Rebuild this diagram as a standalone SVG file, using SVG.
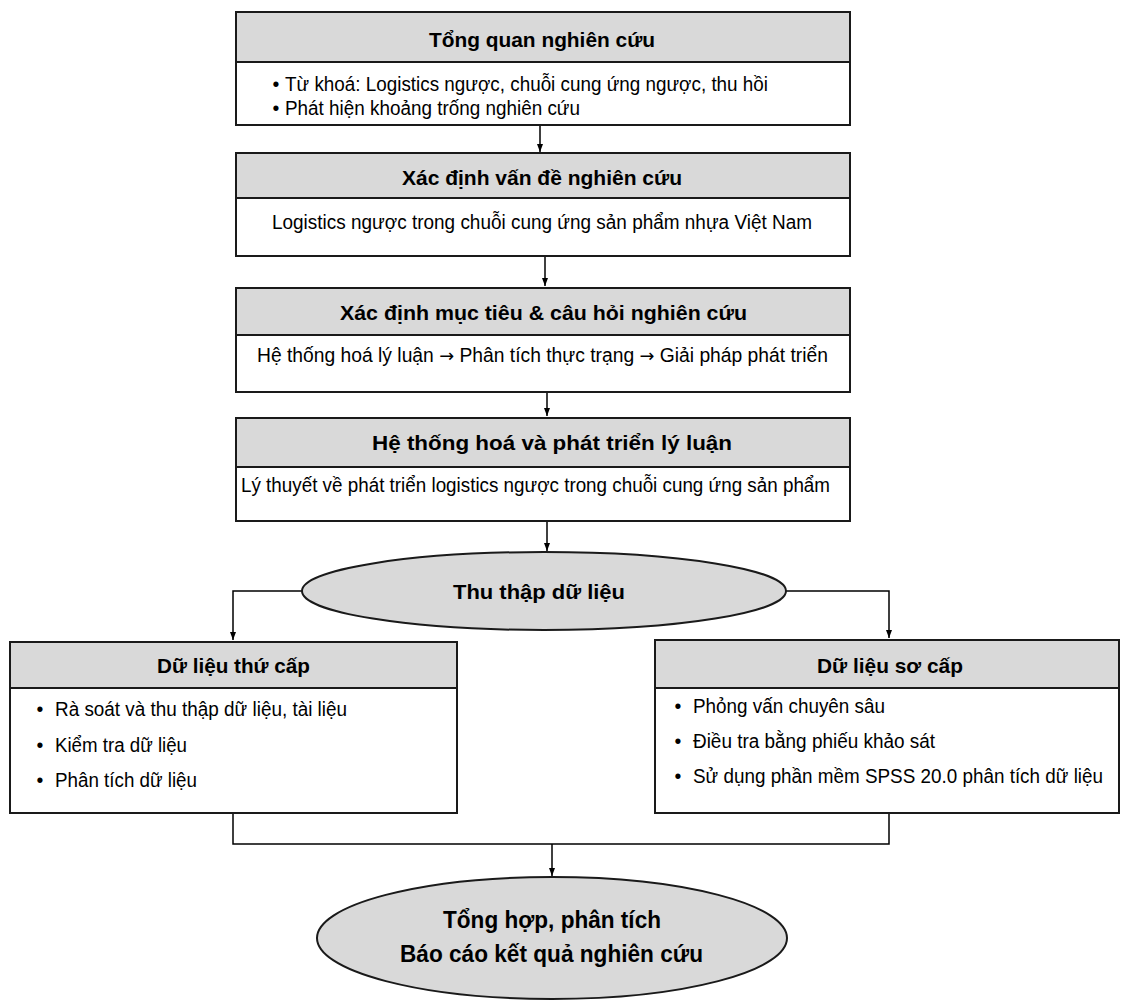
<svg xmlns="http://www.w3.org/2000/svg" width="1122" height="1000" viewBox="0 0 1122 1000">
  <style>
    .box{fill:#fff;stroke:#1a1a1a;stroke-width:2}
    .hd{fill:#d9d9d9;stroke:#1a1a1a;stroke-width:2}
    .ell{fill:#d9d9d9;stroke:#1a1a1a;stroke-width:2}
    .t{font-family:"Liberation Sans",Arial,sans-serif;font-size:19.5px;fill:#000}
    .b{font-weight:bold;font-size:21px}
    .big{font-weight:bold;font-size:23px}
    .sym{font-family:"DejaVu Sans",sans-serif;font-size:18px}
    .c{stroke:#000;stroke-width:1.5;fill:none}
  </style>
  <defs>
    <marker id="arrow" markerUnits="userSpaceOnUse" markerWidth="8" markerHeight="6" refX="8" refY="3" orient="auto">
      <path d="M0,0 L8,3 L0,6 z" fill="#000"/>
    </marker>
  </defs>
  <rect width="1122" height="1000" fill="#fff"/>

  <!-- connectors -->
  <g id="connectors">
    <path class="c" d="M540,126 V152" marker-end="url(#arrow)"/>
    <path class="c" d="M545,257 V286" marker-end="url(#arrow)"/>
    <path class="c" d="M547,393 V416" marker-end="url(#arrow)"/>
    <path class="c" d="M547,522 V551" marker-end="url(#arrow)"/>
    <path class="c" d="M302,591 H233 V640" marker-end="url(#arrow)"/>
    <path class="c" d="M786,591 H889 V638" marker-end="url(#arrow)"/>
    <path class="c" d="M233,814 V844 H889 V814"/>
    <path class="c" d="M552,844 V876" marker-end="url(#arrow)"/>
  </g>

  <!-- literature review -->
  <g id="tong-quan">
    <rect class="box" x="236" y="12" width="614" height="113"/>
    <rect class="hd" x="236" y="12" width="614" height="50"/>
    <text class="t b" x="429" y="47" textLength="226" lengthAdjust="spacingAndGlyphs">Tổng quan nghiên cứu</text>
    <text class="t" y="91"><tspan x="272.5">•</tspan><tspan x="285" textLength="483" lengthAdjust="spacingAndGlyphs">Từ khoá: Logistics ngược, chuỗi cung ứng ngược, thu hồi</tspan></text>
    <text class="t" y="115"><tspan x="272.5">•</tspan><tspan x="285" textLength="295" lengthAdjust="spacingAndGlyphs">Phát hiện khoảng trống nghiên cứu</tspan></text>
  </g>

  <!-- research problem -->
  <g id="van-de">
    <rect class="box" x="236" y="153" width="614" height="103"/>
    <rect class="hd" x="236" y="153" width="614" height="45"/>
    <text class="t b" x="402" y="185" textLength="280" lengthAdjust="spacingAndGlyphs">Xác định vấn đề nghiên cứu</text>
    <text class="t" x="272" y="229" textLength="540" lengthAdjust="spacingAndGlyphs">Logistics ngược trong chuỗi cung ứng sản phẩm nhựa Việt Nam</text>
  </g>

  <!-- objectives and questions -->
  <g id="muc-tieu">
    <rect class="box" x="236" y="288" width="614" height="104"/>
    <rect class="hd" x="236" y="288" width="614" height="47"/>
    <text class="t b" x="340" y="320" textLength="407" lengthAdjust="spacingAndGlyphs">Xác định mục tiêu &amp; câu hỏi nghiên cứu</text>
    <text class="t" y="362" x="257" textLength="571" lengthAdjust="spacingAndGlyphs">Hệ thống hoá lý luận <tspan class="sym">→</tspan> Phân tích thực trạng <tspan class="sym">→</tspan> Giải pháp phát triển</text>
  </g>

  <!-- theory -->
  <g id="ly-luan">
    <rect class="box" x="236" y="418" width="614" height="103"/>
    <rect class="hd" x="236" y="418" width="614" height="49"/>
    <text class="t b" x="372" y="450" textLength="360" lengthAdjust="spacingAndGlyphs">Hệ thống hoá và phát triển lý luận</text>
    <text class="t" x="241" y="492" textLength="589" lengthAdjust="spacingAndGlyphs">Lý thuyết về phát triển logistics ngược trong chuỗi cung ứng sản phẩm</text>
  </g>

  <!-- data collection -->
  <g id="thu-thap">
    <ellipse class="ell" cx="544" cy="591" rx="242" ry="39"/>
    <text class="t b" x="453" y="599" textLength="172" lengthAdjust="spacingAndGlyphs">Thu thập dữ liệu</text>
  </g>

  <!-- secondary data -->
  <g id="thu-cap">
    <rect class="box" x="10" y="642" width="447" height="171"/>
    <rect class="hd" x="10" y="642" width="447" height="46"/>
    <text class="t b" x="157" y="673" textLength="153" lengthAdjust="spacingAndGlyphs">Dữ liệu thứ cấp</text>
    <text class="t" y="716"><tspan x="36.5">•</tspan><tspan x="55" textLength="292" lengthAdjust="spacingAndGlyphs">Rà soát và thu thập dữ liệu, tài liệu</tspan></text>
    <text class="t" y="752"><tspan x="36.5">•</tspan><tspan x="55" textLength="132" lengthAdjust="spacingAndGlyphs">Kiểm tra dữ liệu</tspan></text>
    <text class="t" y="787"><tspan x="36.5">•</tspan><tspan x="55" textLength="142" lengthAdjust="spacingAndGlyphs">Phân tích dữ liệu</tspan></text>
  </g>

  <!-- primary data -->
  <g id="so-cap">
    <rect class="box" x="655" y="640" width="464" height="173"/>
    <rect class="hd" x="655" y="640" width="464" height="48"/>
    <text class="t b" x="817" y="673" textLength="146" lengthAdjust="spacingAndGlyphs">Dữ liệu sơ cấp</text>
    <text class="t" y="713"><tspan x="674.5">•</tspan><tspan x="693" textLength="192" lengthAdjust="spacingAndGlyphs">Phỏng vấn chuyên sâu</tspan></text>
    <text class="t" y="748"><tspan x="674.5">•</tspan><tspan x="693" textLength="242" lengthAdjust="spacingAndGlyphs">Điều tra bằng phiếu khảo sát</tspan></text>
    <text class="t" y="783"><tspan x="674.5">•</tspan><tspan x="693" textLength="410" lengthAdjust="spacingAndGlyphs">Sử dụng phần mềm SPSS 20.0 phân tích dữ liệu</tspan></text>
  </g>

  <!-- synthesis and report -->
  <g id="tong-hop">
    <ellipse class="ell" cx="552" cy="938" rx="235" ry="61"/>
    <text class="t big" x="443" y="928" textLength="218" lengthAdjust="spacingAndGlyphs">Tổng hợp, phân tích</text>
    <text class="t big" x="400" y="962" textLength="303" lengthAdjust="spacingAndGlyphs">Báo cáo kết quả nghiên cứu</text>
  </g>
</svg>
